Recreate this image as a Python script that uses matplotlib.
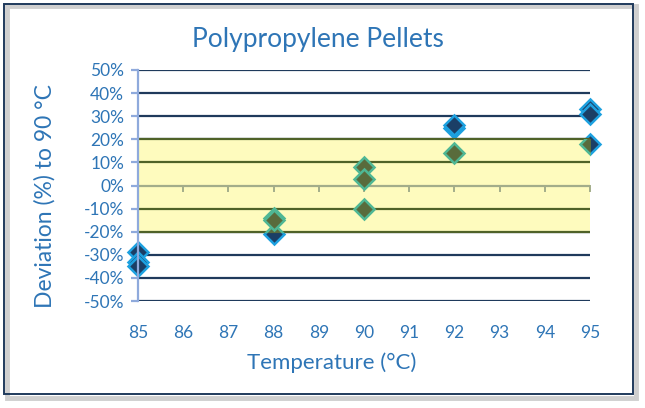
import matplotlib
matplotlib.use("Agg")
import matplotlib.pyplot as plt
from matplotlib.patches import Rectangle
import numpy as np

plt.rcParams['font.family'] = ['Lato', 'DejaVu Sans']

# ---- data ----
temps = [85, 85, 85, 88, 88, 88, 90, 90, 90, 92, 92, 92, 95, 95, 95]
deviation = [-29, -33, -35, -21, -14, -15, 8, 3, -10, 25, 26, 14, 33, 31, 18]
x_ticks = [85, 86, 87, 88, 89, 90, 91, 92, 93, 94, 95]
y_ticks = [-50, -40, -30, -20, -10, 0, 10, 20, 30, 40, 50]
band_low, band_high = -20, 20
title = "Polypropylene Pellets"
xlabel = "Temperature (°C)"
ylabel = "Deviation (%) to 90 °C"

# ---- styles ----
txt_blue = '#2e75b6'
navy = '#1f3a5c'
olive = '#4f6228'
axis_blue = '#8faadc'
axis_in_band = '#a3ad8a'
band_color = '#fefbbe'

fig = plt.figure(figsize=(6.45, 4.08), dpi=100)
ax = fig.add_axes([138/645, 1-301/408, (590-138)/645, (301-70)/408])
ax.set_xlim(85, 95)
ax.set_ylim(-50, 50)

# gridlines (outside band colour)
for yv in y_ticks:
    if yv == 0:
        continue
    ax.axhline(yv, color=navy, lw=1.6, zorder=1)

# blue markers
ax.plot(temps, deviation, linestyle='none', marker='D', ms=10,
        mfc='#1b3f66', mec='#1da1e0', mew=1.8, zorder=2, clip_on=False)

# yellow band (covers markers inside)
band = Rectangle((85, band_low), 10, band_high - band_low, facecolor=band_color,
                 edgecolor='none', zorder=3)
ax.add_patch(band)
for yv in y_ticks:
    if band_low <= yv <= band_high and yv != 0:
        ax.plot([85, 95], [yv, yv], color=olive, lw=1.6, zorder=4)

# green markers clipped to band
gm, = ax.plot(temps, deviation, linestyle='none', marker='D', ms=10,
              mfc='#596b3c', mec='#4fb795', mew=1.8, zorder=5)
clip_rect = Rectangle((84, band_low), 11, band_high - band_low, transform=ax.transData)
gm.set_clip_path(clip_rect)

# zero axis line
ax.plot([85, 95], [0, 0], color=axis_in_band, lw=1.6, zorder=4.5)
for xv in x_ticks:
    ax.plot([xv, xv], [0, -2.2], color=axis_in_band, lw=1.4, zorder=4.5, clip_on=False)

# spines
for s in ['top', 'right', 'bottom']:
    ax.spines[s].set_visible(False)
ax.spines['left'].set_color(axis_blue)
ax.spines['left'].set_linewidth(1.6)
ax.spines['left'].set_zorder(6)

ax.set_yticks(y_ticks)
ax.set_yticklabels([f"{v}%" for v in y_ticks])
ax.tick_params(axis='y', colors=axis_blue, labelcolor=txt_blue, labelsize=12.5,
               length=5, width=1.6, direction='out', pad=5)
ax.set_xticks(x_ticks)
ax.set_xticklabels([str(v) for v in x_ticks])
ax.tick_params(axis='x', length=0, labelcolor=txt_blue, labelsize=12.5, pad=17)
ax.set_facecolor('white')

fig.text(332/645, 1-363/408, xlabel, color=txt_blue, fontsize=16, ha='center', va='center')
fig.text(45/645, 1-196/408, ylabel, color=txt_blue, fontsize=16.5, ha='center', va='center',
         rotation=90)
fig.text(318/645, 1-40/408, title, color=txt_blue, fontsize=19, ha='center', va='center')

# figure border with shadow
fig.patches.append(Rectangle((7/645, 1-398/408), 629/645, 392/408, transform=fig.transFigure,
                             facecolor='none', edgecolor='#cfcfcf', lw=3.5, zorder=0))
fig.patches.append(Rectangle((4/645, 1-394/408), 629/645, 390/408, transform=fig.transFigure,
                             facecolor='none', edgecolor=navy, lw=1.4, zorder=1))

fig.savefig('out.png', dpi=100)
